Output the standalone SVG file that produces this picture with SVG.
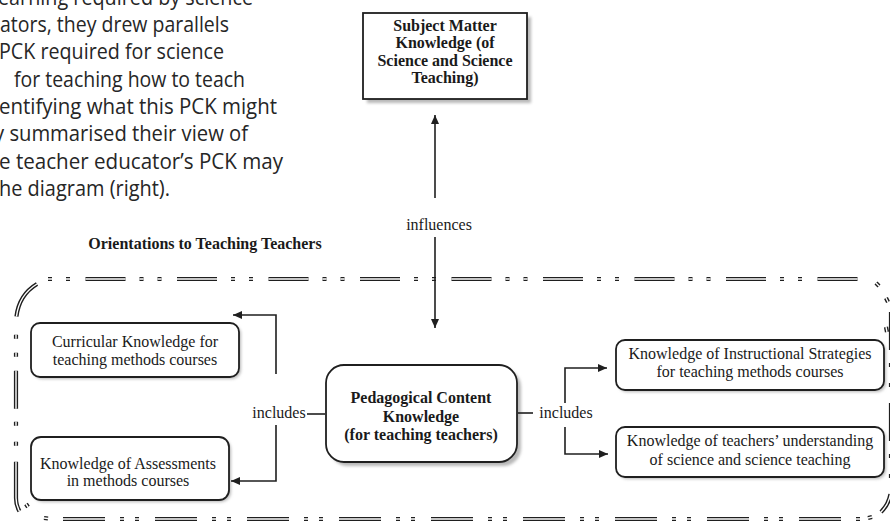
<svg xmlns="http://www.w3.org/2000/svg" width="890" height="523" viewBox="0 0 890 523">
<defs>
<style>
.para{font-family:"Open Sans","Noto Sans",sans-serif;font-size:21px;fill:#262626}
.t{font-family:"Liberation Serif","Times New Roman",serif;font-size:16px;fill:#1a1a1a;text-anchor:middle}
.b{font-weight:bold}
.box{fill:#fff;stroke:#1f1f1f;stroke-width:1.8}
.sh{fill:#b8b8b8;filter:url(#blur)}
.ln{fill:none;stroke:#1f1f1f;stroke-width:1.6}
.bo{fill:none;stroke:#1f1f1f;stroke-width:4.2}
.bi{fill:none;stroke:#fff;stroke-width:1.4}
</style>
<filter id="blur" x="-10%" y="-10%" width="120%" height="120%"><feGaussianBlur stdDeviation="1.5"/></filter>
<marker id="ah" markerUnits="userSpaceOnUse" markerWidth="10" markerHeight="8" refX="9" refY="4" orient="auto"><path d="M0,0 L9,4 L0,8 Z" fill="#1f1f1f"/></marker>
</defs>
<rect width="890" height="523" fill="#fff"/>

<g id="paragraph">
<text class="para" x="-2" y="4.5" textLength="255" lengthAdjust="spacingAndGlyphs">earning required by science</text>
<text class="para" x="0" y="32" textLength="229" lengthAdjust="spacingAndGlyphs">ators, they drew parallels</text>
<text class="para" x="-1" y="59.3" textLength="225" lengthAdjust="spacingAndGlyphs">PCK required for science</text>
<text class="para" x="14" y="86.6" textLength="231" lengthAdjust="spacingAndGlyphs">for teaching how to teach</text>
<text class="para" x="-1" y="114" textLength="278" lengthAdjust="spacingAndGlyphs">entifying what this PCK might</text>
<text class="para" x="-6" y="141.3" textLength="254" lengthAdjust="spacingAndGlyphs">y summarised their view of</text>
<text class="para" x="-1" y="168.6" textLength="284" lengthAdjust="spacingAndGlyphs">e teacher educator’s PCK may</text>
<text class="para" x="-1" y="196" textLength="171" lengthAdjust="spacingAndGlyphs">he diagram (right).</text>
</g>

<g id="orientation-border">
<g class="bo">
<path d="M48 279 L866 279" stroke-dasharray="4 14 4 15.5 40 14"/>
<path d="M37 284 Q17 296 16 322 L16 498 Q16 506 20 512" stroke-dasharray="40 18 4 14 4 14 38 13 4 16 4 16 50 200"/>
<path d="M63 519 L866 519" stroke-dasharray="42 15 4 11 4 16"/>
<path d="M26 504 L28 507 M44 518 L48 518.5 M868 518 L872 517 M876 283 L879 286 M886 298 L888 302 M886 327 L887 332"/>
<path d="M891 312 L891 490 Q890 503 881 512" stroke-dasharray="38 13 4 16 4 16 38 13 4 16 4 16 38 13 4 16 4 16 40 200"/>
</g>
<g class="bi">
<path d="M48 279 L866 279" stroke-dasharray="4 14 4 15.5 40 14"/>
<path d="M37 284 Q17 296 16 322 L16 498 Q16 506 20 512" stroke-dasharray="40 18 4 14 4 14 38 13 4 16 4 16 50 200"/>
<path d="M63 519 L866 519" stroke-dasharray="42 15 4 11 4 16"/>
<path d="M26 504 L28 507 M44 518 L48 518.5 M868 518 L872 517 M876 283 L879 286 M886 298 L888 302 M886 327 L887 332"/>
<path d="M891 312 L891 490 Q890 503 881 512" stroke-dasharray="38 13 4 16 4 16 38 13 4 16 4 16 38 13 4 16 4 16 40 200"/>
</g>
<text class="t b" x="205" y="249">Orientations to Teaching Teachers</text>
</g>

<g id="subject-matter">
<rect class="sh" x="367" y="17" width="164" height="86"/>
<rect class="box" x="363" y="13" width="164" height="86"/>
<text class="t b" x="445" y="30.5">Subject Matter</text>
<text class="t b" x="445" y="48">Knowledge (of</text>
<text class="t b" x="445" y="65.5">Science and Science</text>
<text class="t b" x="445" y="83">Teaching)</text>
</g>

<g id="pck">
<rect class="sh" x="330" y="369" width="191" height="97" rx="18"/>
<rect class="box" x="326" y="365" width="191" height="97" rx="18"/>
<text class="t b" x="421" y="403">Pedagogical Content</text>
<text class="t b" x="421" y="421.5">Knowledge</text>
<text class="t b" x="421" y="440">(for teaching teachers)</text>
</g>

<g id="curricular">
<rect class="sh" x="33" y="325" width="208" height="54" rx="9"/>
<rect class="box" x="31" y="323" width="208" height="54" rx="9"/>
<text class="t" x="135" y="347">Curricular Knowledge for</text>
<text class="t" x="135" y="365">teaching methods courses</text>
</g>

<g id="assessments">
<rect class="sh" x="33" y="439" width="198" height="63" rx="10"/>
<rect class="box" x="31" y="437" width="198" height="63" rx="10"/>
<text class="t" x="128" y="469">Knowledge of Assessments</text>
<text class="t" x="128" y="486">in methods courses</text>
</g>

<g id="instructional">
<rect class="sh" x="618" y="342" width="268" height="50" rx="9"/>
<rect class="box" x="616" y="340" width="268" height="50" rx="9"/>
<text class="t" x="750" y="359">Knowledge of Instructional Strategies</text>
<text class="t" x="750" y="377">for teaching methods courses</text>
</g>

<g id="teachers-understanding">
<rect class="sh" x="618" y="429" width="268" height="50" rx="9"/>
<rect class="box" x="616" y="427" width="268" height="50" rx="9"/>
<text class="t" x="750" y="446">Knowledge of teachers’ understanding</text>
<text class="t" x="750" y="465">of science and science teaching</text>
</g>

<g id="connectors">
<path class="ln" d="M435 198 L435 115" marker-end="url(#ah)"/>
<path class="ln" d="M435 237 L435 328" marker-end="url(#ah)"/>
<text class="t" x="439" y="230">influences</text>
<path class="ln" d="M325 414 L307 414"/>
<path class="ln" d="M276 374 L276 315 L233 315" marker-end="url(#ah)"/>
<path class="ln" d="M276 425 L276 481 L231 481" marker-end="url(#ah)"/>
<text class="t" x="279" y="418">includes</text>
<path class="ln" d="M518 413 L533 413"/>
<path class="ln" d="M565 403 L565 368 L607 368" marker-end="url(#ah)"/>
<path class="ln" d="M565 427 L565 454 L608 454" marker-end="url(#ah)"/>
<text class="t" x="566" y="418">includes</text>
</g>
</svg>
